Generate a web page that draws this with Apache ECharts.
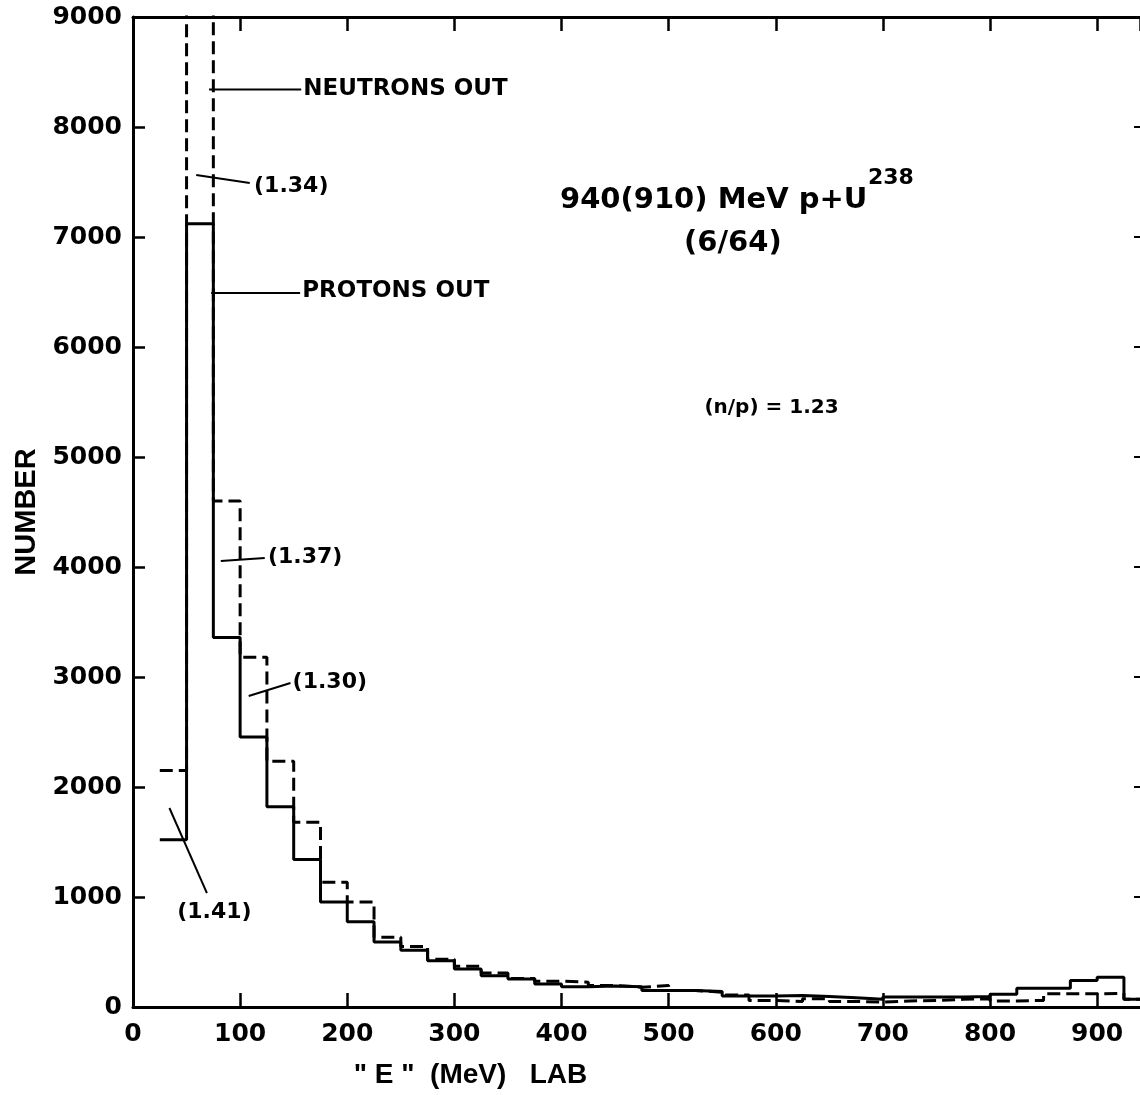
<!DOCTYPE html>
<html>
<head>
<meta charset="utf-8">
<script src="https://cdn.jsdelivr.net/npm/echarts@6/dist/echarts.min.js"></script>
<style>
  html, body { margin: 0; background: #fff; }
  #chart { width: 1140px; height: 1095px; }
</style>
</head>
<body>
<div id="chart"></div>
<script>
// left edge of each 25 MeV bin
const binStart = [25, 50, 75, 100, 125, 150, 175, 200, 225, 250, 275, 300, 325, 350, 375,
  400, 425, 450, 475, 500, 525, 550, 575, 600, 625, 650, 675, 700, 725, 750, 775,
  800, 825, 850, 875, 900, 925];
const lastEdge = 950;

const protons = [1520, 7120, 3360, 2455, 1820, 1340, 955, 775, 590, 515, 420, 345, 285, 255, 210,
  185, 190, 185, 150, 150, 140, 100, 100, 105, 95, 85, 70, 90, 90, 90, 95,
  115, 170, 170, 240, 270, 70];
const neutrons = [2150, 9540, 4600, 3180, 2235, 1680, 1135, 955, 635, 550, 435, 370, 310, 260, 235,
  225, 195, 180, 195, 150, 135, 110, 60, 50, 75, 50, 45, 55, 60, 70, 75,
  55, 60, 120, 120, 125, 70];

const xMin = 0, xMax = 940, xStep = 100;
const yMin = 0, yMax = 9000, yStep = 1000;

function steps(values) {
  const pts = binStart.map((x, i) => [x, values[i]]);
  pts.push([lastEdge, values[values.length - 1]]);
  return pts;
}

const chart = echarts.init(document.getElementById('chart'));

const tickFont = { color: '#000', fontFamily: 'DejaVu Sans', fontWeight: 'bold', fontSize: 25 };
const frame = { onZero: false, lineStyle: { color: '#000', width: 3 } };

chart.setOption({
  animation: false,
  backgroundColor: '#fff',
  grid: { left: 133, right: 0, top: 17, bottom: 88 },
  xAxis: [
    {
      type: 'value', min: xMin, max: xMax, interval: xStep, position: 'bottom',
      axisLine: frame,
      axisTick: { inside: true, length: 14, lineStyle: { color: '#000', width: 2.5 } },
      axisLabel: Object.assign({ margin: 15, showMaxLabel: false, formatter: (v) => String(v) }, tickFont),
      splitLine: { show: false }
    },
    {
      type: 'value', min: xMin, max: xMax, interval: xStep, position: 'top',
      axisLine: frame,
      axisTick: { inside: true, length: 14, lineStyle: { color: '#000', width: 2.5 } },
      axisLabel: { show: false },
      splitLine: { show: false }
    }
  ],
  yAxis: [
    {
      type: 'value', min: yMin, max: yMax, interval: yStep, position: 'left',
      name: 'NUMBER', nameLocation: 'middle', nameGap: 84, nameRotate: 90,
      nameTextStyle: { color: '#000', fontFamily: 'Liberation Sans', fontWeight: 'bold', fontSize: 29 },
      axisLine: frame,
      axisTick: { inside: true, length: 12, lineStyle: { color: '#000', width: 2.5 } },
      axisLabel: Object.assign({ margin: 11, formatter: (v) => String(v) }, tickFont),
      splitLine: { show: false }
    },
    {
      type: 'value', min: yMin, max: yMax, interval: yStep, position: 'right',
      axisLine: { show: false, onZero: false },
      axisTick: { inside: true, length: 6, lineStyle: { color: '#000', width: 2 } },
      axisLabel: { show: false },
      splitLine: { show: false }
    }
  ],
  series: [
    {
      name: 'Neutrons out', type: 'line', step: 'end', symbol: 'none', clip: true,
      data: steps(neutrons),
      lineStyle: { color: '#000', width: 3, type: [13, 6] }
    },
    {
      name: 'Protons out', type: 'line', step: 'end', symbol: 'none', clip: true,
      data: steps(protons),
      lineStyle: { color: '#000', width: 3 }
    }
  ]
});

// annotations, anchored in data coordinates
const pointers = [
  [[71, 8340], [157, 8340]],
  [[59, 7564], [109, 7491]],
  [[73, 6491], [156, 6491]],
  [[82, 4055], [123, 4082]],
  [[108, 2827], [147, 2945]],
  [[34, 1809], [69, 1036]]
];
const labels = [
  { text: 'NEUTRONS OUT', at: [159, 8345], size: 23, align: 'left', bold: true },
  { text: '(1.34)', at: [113, 7464], size: 22, align: 'left', bold: true },
  { text: 'PROTONS OUT', at: [158, 6510], size: 23, align: 'left', bold: true },
  { text: '(1.37)', at: [126, 4091], size: 22, align: 'left', bold: true },
  { text: '(1.30)', at: [149, 2955], size: 22, align: 'left', bold: true },
  { text: '(1.41)', at: [76, 864], size: 22, align: 'center', bold: true },
  { text: '940(910) MeV p+U', at: [542, 7336], size: 29, align: 'center', bold: true },
  { text: '238', at: [686, 7530], size: 22, align: 'left', bold: true },
  { text: '(6/64)', at: [560, 6945], size: 29, align: 'center', bold: true },
  { text: '(n/p) = 1.23', at: [596, 5445], size: 20, align: 'center', bold: true },
  { text: '" E "  (MeV)   LAB', at: [315, -618], size: 28, align: 'center', bold: true, family: 'Liberation Sans' }
];

const px = (p) => chart.convertToPixel({ xAxisIndex: 0, yAxisIndex: 0 }, p);
const graphics = [];
pointers.forEach(([a, b]) => {
  const p1 = px(a), p2 = px(b);
  graphics.push({
    type: 'line', silent: true,
    shape: { x1: p1[0], y1: p1[1], x2: p2[0], y2: p2[1] },
    style: { stroke: '#000', lineWidth: 2 }
  });
});
labels.forEach((l) => {
  const p = px(l.at);
  graphics.push({
    type: 'text', silent: true, x: p[0], y: p[1],
    style: {
      text: l.text, fill: '#000',
      font: (l.bold ? 'bold ' : '') + l.size + 'px "' + (l.family || 'DejaVu Sans') + '"',
      align: l.align, verticalAlign: 'middle',
      textAlign: l.align, textVerticalAlign: 'middle'
    }
  });
});
chart.setOption({ graphic: graphics });
</script>
</body>
</html>
